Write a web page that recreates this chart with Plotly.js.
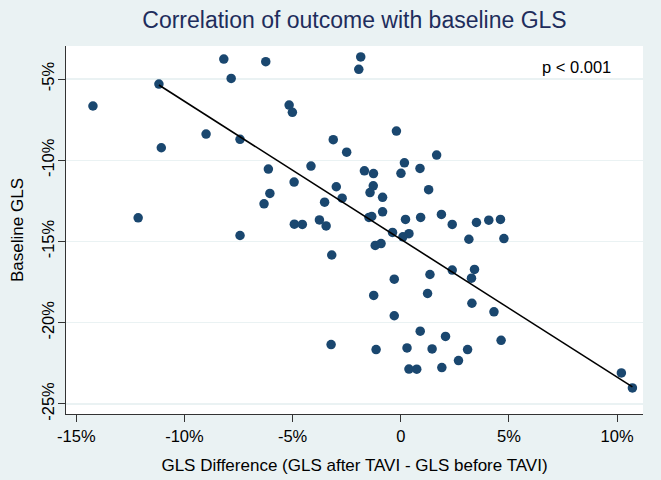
<!DOCTYPE html>
<html>
<head>
<meta charset="utf-8">
<script src="https://cdn.plot.ly/plotly-3.0.1.min.js"></script>
<style>html,body{margin:0;padding:0;background:#EAF2F3;}#chart{width:661px;height:480px;}</style>
</head>
<body>
<div id="chart"></div>
<script>
// GLS difference (after - before TAVI), %
const glsDiff = [
  -14.23, -11.18, -11.07, -12.14, -9.00, -8.18, -7.84, -7.43, -7.43, -6.24,
  -6.12, -6.05, -6.32, -5.16, -5.01, -4.15, -4.93, -3.52, -4.92, -4.55,
  -3.76, -3.45, -3.12, -1.85, -1.94, -2.50, -0.20, 1.66, 0.17, 0.01,
  0.89, -1.68, -1.26, -2.98, -1.27, -1.42, -0.84, -2.71, 1.29, -0.84,
  -1.47, -1.34, 0.22, 0.92, 1.88, 2.38, 3.50, 4.07, 4.61, -0.38,
  0.38, 0.10, 3.15, 4.77, -1.18, -0.91, -3.19, -0.30, 1.35, 2.38,
  3.41, 3.27, -1.25, 1.24, 3.29, 4.31, -0.30, 0.90, 2.07, 4.64,
  -3.22, -1.14, 0.29, 1.45, 3.09, 2.67, 0.38, 0.74, 1.90, 10.20,
  10.71
];
// Baseline GLS, %
const baselineGLS = [
  -6.66, -5.31, -9.23, -13.54, -8.39, -3.77, -4.96, -8.71, -14.63, -3.93,
  -10.54, -12.04, -12.68, -6.60, -7.05, -10.36, -11.34, -12.58, -13.93, -13.95,
  -13.67, -14.04, -8.73, -3.64, -4.40, -9.50, -8.20, -9.68, -10.16, -10.80,
  -10.50, -10.65, -10.82, -11.63, -11.57, -11.99, -12.28, -12.33, -11.81, -13.17,
  -13.52, -13.46, -13.64, -13.52, -13.33, -13.95, -13.83, -13.69, -13.64, -14.44,
  -14.52, -14.71, -14.86, -14.82, -15.24, -15.13, -15.83, -17.32, -17.03, -16.76,
  -16.72, -17.26, -18.32, -18.20, -18.80, -19.33, -19.57, -20.52, -20.84, -21.08,
  -21.34, -21.65, -21.55, -21.61, -21.65, -22.33, -22.85, -22.86, -22.76, -23.09,
  -24.01
];
// Fitted regression line
const fitX = [-11.18, 10.71];
const fitY = [-5.37, -23.95];

const xTickVals = [-15, -10, -5, 0, 5, 10];
const xTickText = ['-15%', '-10%', '-5%', '0', '5%', '10%'];
const yTickVals = [-5, -10, -15, -20, -25];
const yTickText = ['-5%', '-10%', '-15%', '-20%', '-25%'];

const titleText = 'Correlation of outcome with baseline GLS';
const xTitle = 'GLS Difference (GLS after TAVI - GLS before TAVI)';
const yTitle = 'Baseline GLS';
const pText = 'p < 0.001';

const font = 'Arial, "Liberation Sans", sans-serif';

const traces = [
  {
    x: glsDiff, y: baselineGLS, type: 'scatter', mode: 'markers',
    marker: {color: '#1A476F', size: 9.5, line: {width: 0}},
    hoverinfo: 'none', showlegend: false
  },
  {
    x: fitX, y: fitY, type: 'scatter', mode: 'lines',
    line: {color: '#000000', width: 1.6},
    hoverinfo: 'none', showlegend: false
  }
];

const layout = {
  width: 661, height: 480,
  paper_bgcolor: '#EAF2F3',
  plot_bgcolor: '#FFFFFF',
  margin: {l: 66, r: 18, t: 46, b: 66, pad: 0},
  font: {family: font, color: '#000000', size: 16},
  title: {
    text: titleText, font: {family: font, size: 23, color: '#1E2D5C'},
    x: 0.5, xref: 'paper', y: 0.958, yref: 'container', xanchor: 'center', yanchor: 'middle'
  },
  xaxis: {
    range: [-15.476, 11.20],
    tickvals: xTickVals, ticktext: xTickText,
    ticks: 'outside', ticklen: 7, tickwidth: 1, tickcolor: '#333333',
    showline: true, linecolor: '#333333', linewidth: 1,
    showgrid: false, zeroline: false,
    tickfont: {family: font, size: 16.5, color: '#000'},
    title: {text: xTitle, font: {family: font, size: 17, color: '#000'}, standoff: 15}
  },
  yaxis: {
    range: [-25.616, -2.967],
    tickvals: yTickVals, ticktext: yTickText,
    tickangle: -90,
    ticks: 'outside', ticklen: 7, tickwidth: 1, tickcolor: '#333333',
    ticklabelstandoff: -3,
    showline: true, linecolor: '#333333', linewidth: 1,
    showgrid: true, gridcolor: '#EAF2F3', gridwidth: 1.3,
    zeroline: false,
    tickfont: {family: font, size: 16.5, color: '#000'},
    title: {text: yTitle, font: {family: font, size: 17, color: '#000'}, standoff: 11}
  },
  annotations: [{
    text: pText, xref: 'paper', yref: 'paper', x: 0.948, y: 0.943,
    xanchor: 'right', yanchor: 'middle', showarrow: false,
    font: {family: font, size: 16.5, color: '#000'}
  }]
};

Plotly.newPlot('chart', traces, layout, {displayModeBar: false, staticPlot: true});
</script>
</body>
</html>
